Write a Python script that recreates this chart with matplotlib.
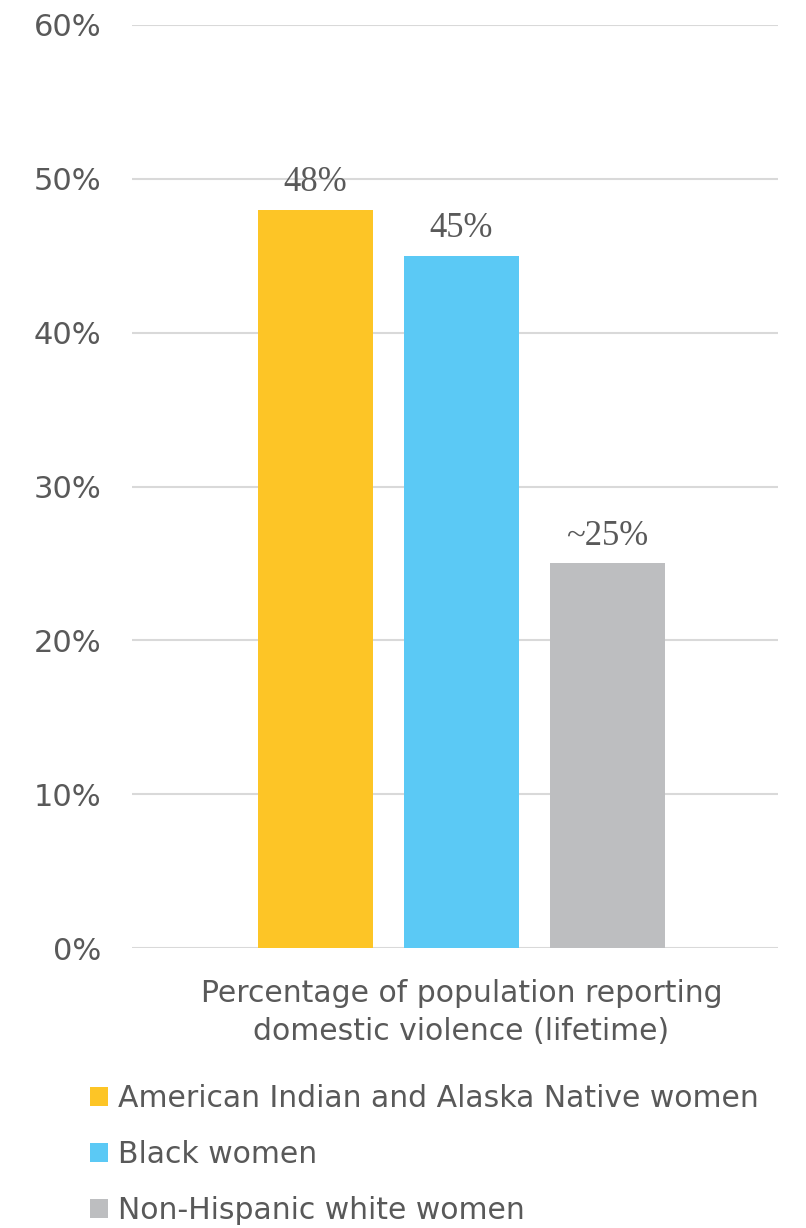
import matplotlib
matplotlib.use("Agg")
import matplotlib.pyplot as plt
from matplotlib.patches import Patch
from matplotlib.ticker import FuncFormatter

categories = ["American Indian and Alaska Native women", "Black women", "Non-Hispanic white women"]
values = [48, 45, 25]
value_labels = ["48%", "45%", "~25%"]
colors = ["#FDC526", "#5BC9F5", "#BDBEC0"]
group_label = "Percentage of population reporting\ndomestic violence (lifetime)"
yticks = [0, 10, 20, 30, 40, 50, 60]

TXT = "#595959"
plt.rcParams['font.family'] = ['DejaVu Sans']

fig = plt.figure(figsize=(8.06, 12.28), dpi=100)
ax = fig.add_axes([132/806, 1-948/1228, 646/806, 923/1228])

pos = list(range(len(values)))
bars = ax.bar(pos, values, width=0.788, color=colors, zorder=3)
for p, v, lab in zip(pos, values, value_labels):
    ax.text(p, v + 1.2, lab, ha='center', va='baseline', fontsize=25,
            family=['Liberation Serif', 'DejaVu Serif'], color=TXT)

ax.set_xlim(-1.257, 3.168)
ax.set_ylim(0, 60)
ax.set_yticks(yticks)
ax.yaxis.set_major_formatter(FuncFormatter(lambda v, _: f"{int(v)}%"))
ax.grid(axis='y', color='#D9D9D9', linewidth=1.5, zorder=0)
ax.set_xticks([1])
ax.set_xticklabels([group_label], fontsize=21.5, color=TXT, linespacing=1.42)
ax.tick_params(axis='both', length=0, colors=TXT)
ax.tick_params(axis='y', pad=22, labelsize=22)
ax.tick_params(axis='x', pad=22)
for s in ax.spines.values():
    s.set_visible(False)

handles = [Patch(facecolor=c, edgecolor='none') for c in colors]
fig.legend(handles, categories, loc='upper left', bbox_to_anchor=(90/806, 1-1084/1228),
           frameon=False, fontsize=21.5, labelcolor=TXT, handlelength=0.6, handleheight=0.6,
           handletextpad=0.33, labelspacing=0.91, borderpad=0, borderaxespad=0)

fig.savefig("out.png", dpi=100)
